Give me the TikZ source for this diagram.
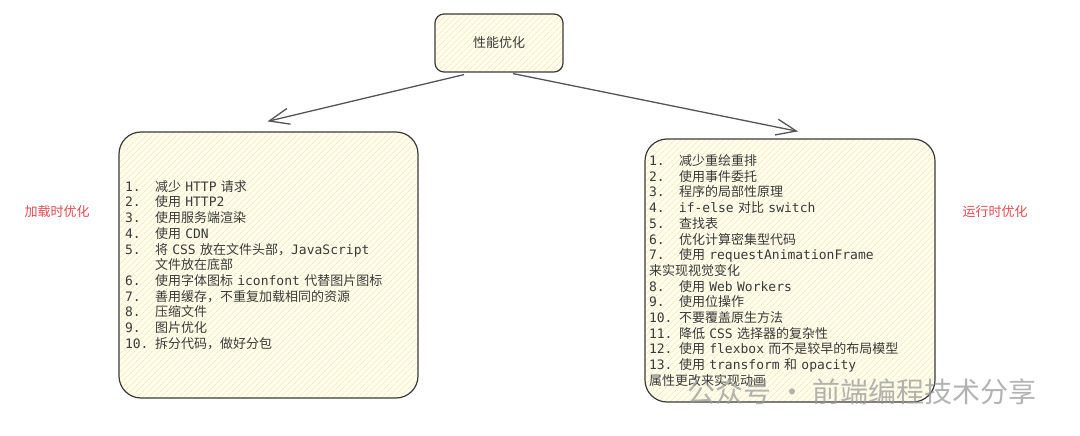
\documentclass[tikz,border=0pt]{standalone}
\usepackage{fontspec}
\setmainfont{Noto Sans CJK SC}
\setmonofont{DejaVu Sans Mono}
\usetikzlibrary{arrows.meta, patterns.meta}
\definecolor{inkGray}{HTML}{3A3A3A}
\definecolor{lineGray}{HTML}{555555}
\definecolor{noteFill}{HTML}{FFFDF0}
\definecolor{hatchYellow}{HTML}{FBECAE}
\definecolor{labelRed}{HTML}{E5484D}
\definecolor{markGray}{HTML}{9A9A9A}
\newcommand{\itemno}[1]{\makebox[30pt][l]{\texttt{#1}}}
\tikzset{
  sketchbox/.style={rectangle, draw=inkGray, line width=1.2pt,
    preaction={fill=noteFill},
    preaction={pattern={Lines[angle=45, distance=4pt, line width=0.7pt]},
               pattern color=hatchYellow},
    text=inkGray, font=\fontsize{13}{15.7}\selectfont},
  topbox/.style={sketchbox, rounded corners=9pt, minimum width=128pt,
    minimum height=58pt, inner sep=0pt},
  listbox/.style={sketchbox, rounded corners=22pt, align=left, inner ysep=0pt},
  sideLabel/.style={text=labelRed, font=\fontsize{13}{15.7}\selectfont},
  arrowS/.style={-{Straight Barb[length=20pt, width=16pt]}, draw=lineGray,
    line width=1.3pt},
}

\begin{document}
\begin{tikzpicture}[x=1pt, y=-1pt]
  \useasboundingbox (0,0) rectangle (1080,436);
  \node[topbox] (perf) at (499,43) {性能优化};
  \node[listbox, minimum width=299pt, minimum height=266pt, inner xsep=6pt,
        text width=287pt] (load) at (268.5,265)
    {\itemno{1.}减少\texttt{ HTTP }请求\\
     \itemno{2.}使用\texttt{ HTTP2}\\
     \itemno{3.}使用服务端渲染\\
     \itemno{4.}使用\texttt{ CDN}\\
     \itemno{5.}将\texttt{ CSS }放在文件头部，\texttt{JavaScript}\\
     \hspace*{30pt}文件放在底部\\
     \itemno{6.}使用字体图标\texttt{ iconfont }代替图片图标\\
     \itemno{7.}善用缓存，不重复加载相同的资源\\
     \itemno{8.}压缩文件\\
     \itemno{9.}图片优化\\
     \itemno{10.}拆分代码，做好分包};
  \node[listbox, minimum width=290pt, minimum height=263pt, inner xsep=4pt,
        text width=282pt] (run) at (790,270.5)
    {\itemno{1.}减少重绘重排\\
     \itemno{2.}使用事件委托\\
     \itemno{3.}程序的局部性原理\\
     \itemno{4.}\texttt{if-else }对比\texttt{ switch}\\
     \itemno{5.}查找表\\
     \itemno{6.}优化计算密集型代码\\
     \itemno{7.}使用\texttt{ requestAnimationFrame}\\
     来实现视觉变化\\
     \itemno{8.}使用\texttt{ Web Workers}\\
     \itemno{9.}使用位操作\\
     \itemno{10.}不要覆盖原生方法\\
     \itemno{11.}降低\texttt{ CSS }选择器的复杂性\\
     \itemno{12.}使用\texttt{ flexbox }而不是较早的布局模型\\
     \itemno{13.}使用\texttt{ transform }和\texttt{ opacity}\\
     属性更改来实现动画};
  \node[sideLabel] (loadlbl) at (57,212) {加载时优化};
  \node[sideLabel] (runlbl) at (995,212) {运行时优化};
  \draw[arrowS] ([xshift=-35pt, yshift=-2pt]perf.south) -- ([xshift=-1pt, yshift=10pt]load.north);
  \draw[arrowS] ([xshift=14pt, yshift=-1pt]perf.south) -- ([xshift=8pt, yshift=7pt]run.north);
  % watermark
  \node[text=markGray, opacity=0.75, font=\fontsize{28}{30}\selectfont] (mark)
    at (862,392) {公众号 · 前端编程技术分享};
\end{tikzpicture}
\end{document}
